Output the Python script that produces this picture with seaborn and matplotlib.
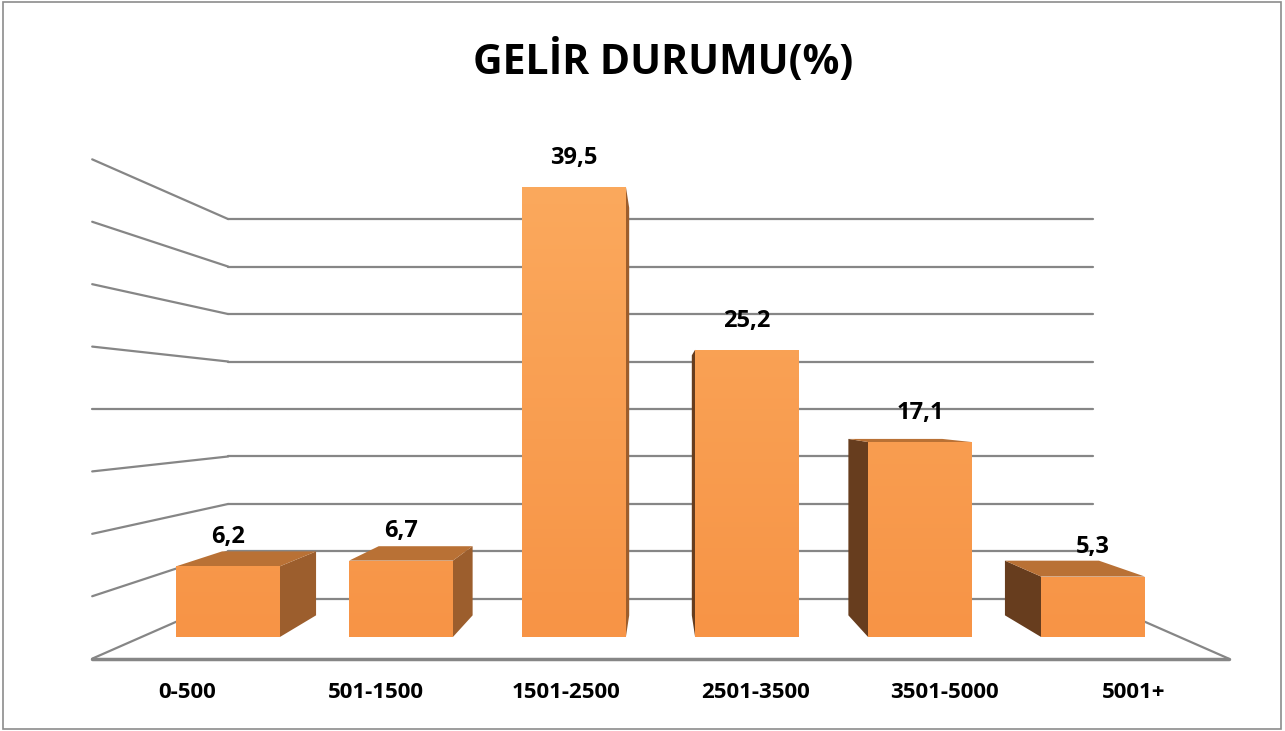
import numpy as np
import matplotlib
matplotlib.use("Agg")
import matplotlib.pyplot as plt
import seaborn as sns
from matplotlib.patches import Polygon, Rectangle
from matplotlib.colors import LinearSegmentedColormap

# data
categories = ["0-500", "501-1500", "1501-2500", "2501-3500", "3501-5000", "5001+"]
values = [6.2, 6.7, 39.5, 25.2, 17.1, 5.3]
value_labels = ["6,2", "6,7", "39,5", "25,2", "17,1", "5,3"]
grid_values = np.arange(0, 45, 5)

sns.set_style("white")
plt.rcParams["font.family"] = ["Open Sans", "DejaVu Sans"]
plt.rcParams["text.color"] = "black"

# perspective of the fake 3D view (bar-plane data units)
VPX, VPY = 2.5, 20.0
K_BACK, K_FRONT, K_BAR_BACK = 0.833, 1.095, 0.905
BAR_W = 0.6
GRID = "#868686"


def proj(x, v, k):
    return VPX + (x - VPX) * k, VPY + (v - VPY) * k


fig = plt.figure(figsize=(12.85, 7.31), dpi=100)
ax = fig.add_axes([0, 0, 1, 1])
sns.barplot(x=categories, y=values, color="#F79646", saturation=1,
            width=BAR_W, ax=ax, zorder=3, edgecolor="none")

n = len(categories)
xl, xr = -0.5, n - 0.5

# back wall gridlines + left wall lines
for g in grid_values:
    bx0, by0 = proj(xl, g, K_BACK)
    bx1, by1 = proj(xr, g, K_BACK)
    fx, fy = proj(xl, g, K_FRONT)
    ax.plot([bx0, bx1], [by0, by1], color=GRID, lw=1.6, zorder=1)
    ax.plot([fx, bx0], [fy, by0], color=GRID, lw=1.6, zorder=1)

# floor edges
f0 = proj(xl, 0, K_FRONT)
f1 = proj(xr, 0, K_FRONT)
b1 = proj(xr, 0, K_BACK)
ax.plot([f0[0], f1[0]], [f0[1], f1[1]], color=GRID, lw=2.5, zorder=1.5)
ax.plot([f1[0], b1[0]], [f1[1], b1[1]], color=GRID, lw=1.6, zorder=1)

grad = LinearSegmentedColormap.from_list("bar", ["#F79446", "#FBA95D"])

for patch, h, lbl in zip(ax.patches, values, value_labels):
    x0 = patch.get_x()
    x1 = x0 + patch.get_width()
    cx = (x0 + x1) / 2
    # side face
    if x1 < VPX:
        pts = [proj(x1, 0, 1), proj(x1, h, 1), proj(x1, h, K_BAR_BACK), proj(x1, 0, K_BAR_BACK)]
        ax.add_patch(Polygon(pts, closed=True, fc="#9C5E2D", ec="none", zorder=2.5))
    elif x0 > VPX:
        pts = [proj(x0, 0, 1), proj(x0, h, 1), proj(x0, h, K_BAR_BACK), proj(x0, 0, K_BAR_BACK)]
        ax.add_patch(Polygon(pts, closed=True, fc="#673D1E", ec="none", zorder=2.5))
    # top face
    if h < VPY:
        pts = [proj(x0, h, 1), proj(x1, h, 1), proj(x1, h, K_BAR_BACK), proj(x0, h, K_BAR_BACK)]
        ax.add_patch(Polygon(pts, closed=True, fc="#B97135", ec="none", zorder=2.6))
    # soft vertical gradient on the front face (stronger on taller bars)
    top = min(1.0, h / 40)
    img = ax.imshow(np.linspace(0, top, 100).reshape(-1, 1), cmap=grad, origin="lower",
                    extent=(x0, x1, 0, h), aspect="auto", zorder=3.1, vmin=0, vmax=1)
    img.set_clip_path(patch)
    ax.annotate(lbl, (cx, h), xytext=(0, 21), textcoords="offset points",
                ha="center", va="center", fontsize=17, fontweight="bold",
                color="black", zorder=5)

# category labels sit on the front edge of the floor
for i, cat in enumerate(categories):
    tx, _ = proj(i, 0, K_FRONT)
    ax.text(tx, -4.91, cat, ha="center", va="center", fontsize=16,
            fontweight="bold", color="black")

ax.set_xlim(-228 / 173, (1285 - 228) / 173)
ax.set_ylim(-(731 - 637) / 11.4, 637 / 11.4)
ax.axis("off")

fig.text(663 / 1285, 1 - 62 / 731, "GELİR DURUMU(%)", ha="center", va="center",
         fontsize=29.5, fontweight="bold", color="black")
fig.patches.append(Rectangle((0.002, 0.003), 0.995, 0.994, transform=fig.transFigure,
                             fill=False, ec="#8c8c8c", lw=1.2))

fig.savefig("out.png", dpi=100, facecolor="white")
